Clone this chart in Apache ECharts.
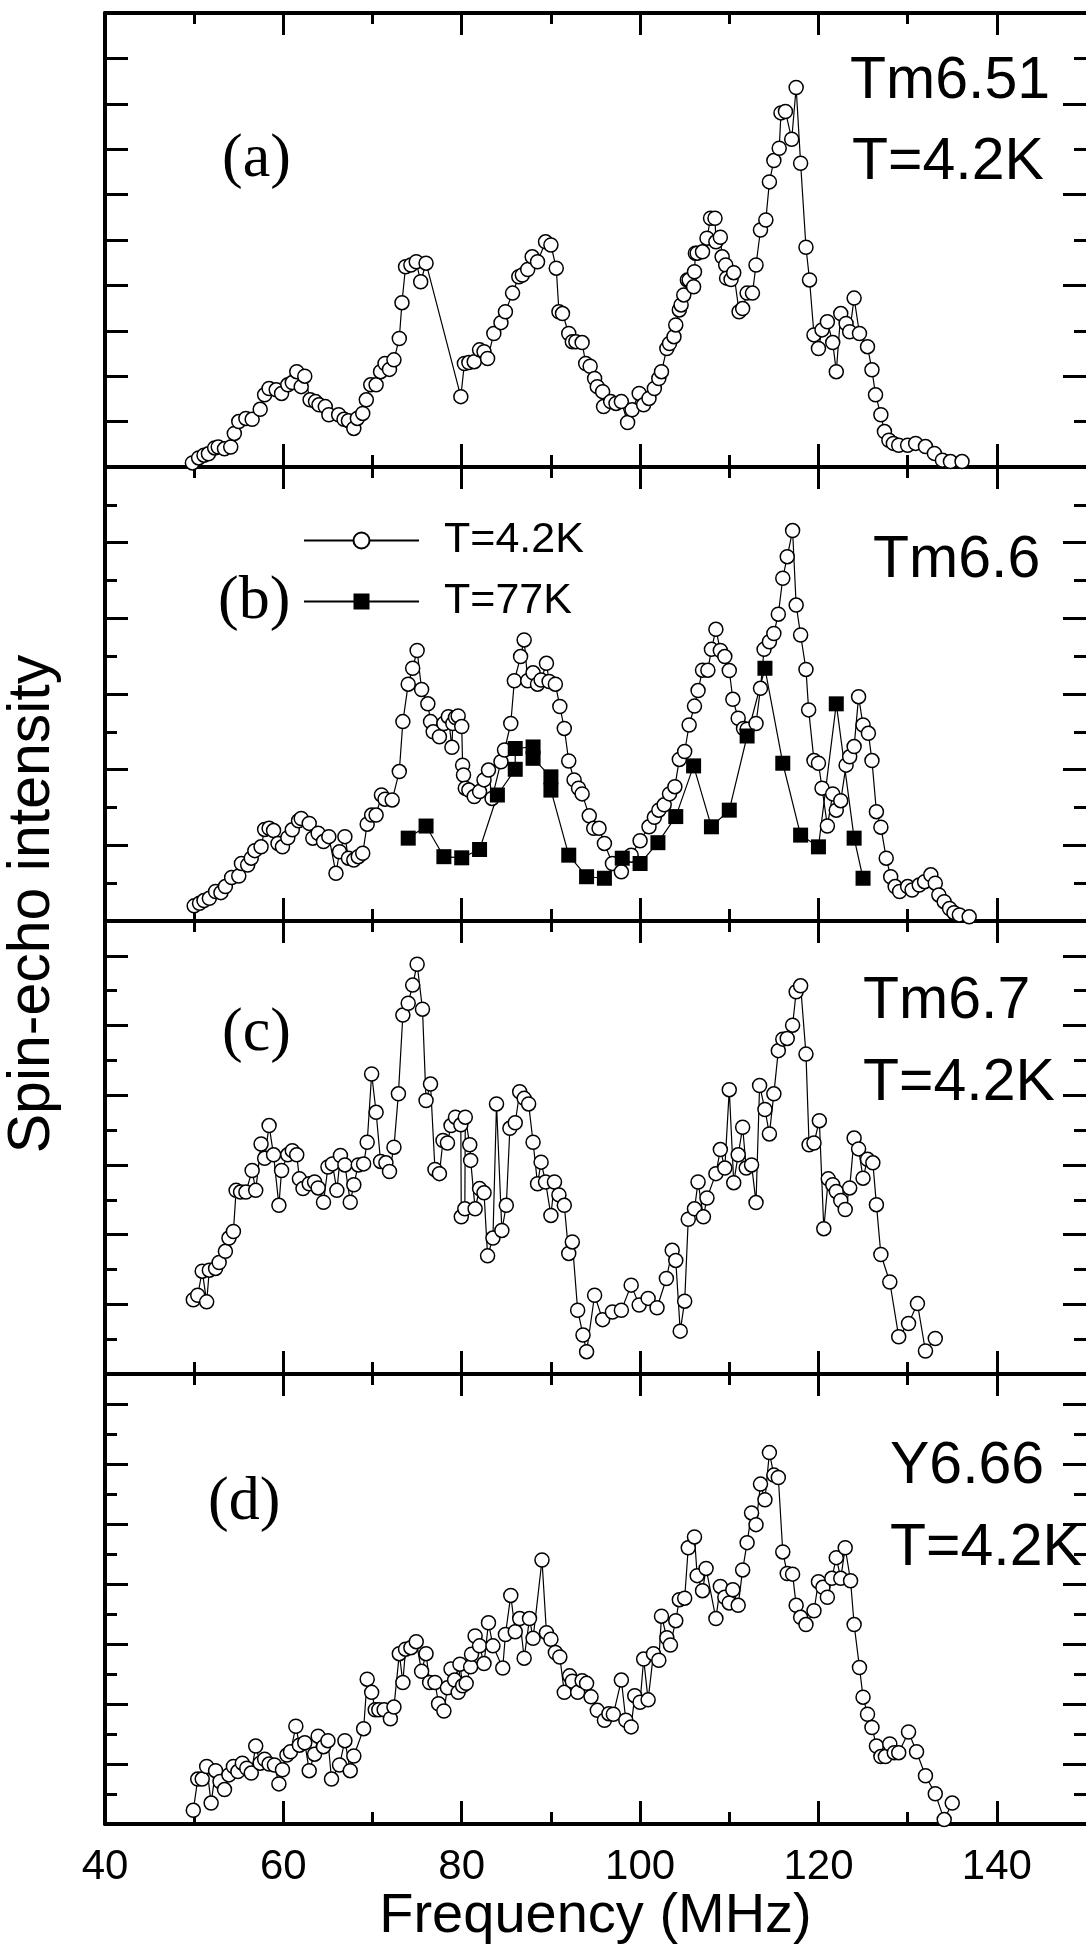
<!DOCTYPE html>
<html>
<head>
<meta charset="utf-8">
<title>Spin-echo spectra</title>
<script src="https://cdn.jsdelivr.net/npm/echarts@6/dist/echarts.min.js"></script>
<style>
  html, body { margin: 0; padding: 0; background: #fff; }
  #chart { width: 1086px; height: 1946px; }
</style>
</head>
<body>
<div id="chart"></div>
<script>
// (a) Tm6.51, T=4.2K
const freqA = [
  49.8, 50.5, 51.1, 51.6, 52.3, 52.7, 53.4, 54.1, 54.5, 55.0,
  55.8, 56.5, 57.4, 57.9, 58.4, 59.2, 59.8, 60.5, 61.0, 61.5,
  62.0, 62.4, 63.0, 63.6, 64.0, 64.7, 65.1, 66.2, 66.8, 67.3,
  67.9, 68.3, 68.9, 69.3, 69.8, 70.4, 70.9, 71.4, 71.9, 72.4,
  73.0, 73.3, 73.7, 74.3, 74.9, 75.4, 76.0, 79.9, 80.3, 80.8,
  81.4, 82.0, 82.5, 82.9, 83.6, 84.4, 84.9, 85.7, 86.4, 86.8,
  87.4, 87.9, 88.5, 89.4, 90.0, 90.6, 90.9, 91.3, 92.0, 92.4,
  92.8, 93.5, 93.9, 94.4, 94.9, 95.2, 95.8, 95.9, 96.7, 97.3,
  97.9, 98.6, 99.1, 99.9, 100.4, 101.0, 101.6, 102.1, 102.4, 103.0,
  103.3, 103.8, 104.0, 104.4, 104.6, 104.9, 105.3, 105.5, 106.0, 106.1,
  106.2, 106.4, 107.0, 107.5, 107.9, 108.4, 108.5, 109.0, 109.2, 109.6,
  109.7, 110.2, 110.5, 111.1, 111.5, 112.0, 112.6, 113.0, 113.5, 114.1,
  114.5, 115.0, 115.6, 115.8, 116.3, 117.0, 117.5, 118.0, 118.6, 119.0,
  119.5, 120.0, 120.4, 121.0, 121.6, 122.0, 122.5, 123.1, 123.5, 124.0,
  124.6, 125.5, 126.0, 126.4, 127.0, 127.4, 127.9, 128.4, 129.0, 130.0,
  130.9, 132.0, 133.0, 133.9, 134.8, 136.1
];
const ampA = [
  0.09, 0.2, 0.26, 0.29, 0.42, 0.44, 0.4, 0.44, 0.74, 1.0,
  1.07, 1.05, 1.27, 1.59, 1.73, 1.70, 1.62, 1.81, 1.86, 2.10,
  1.77, 2.0, 1.48, 1.44, 1.37, 1.33, 1.15, 1.15, 1.05, 1.02,
  0.85, 1.07, 1.18, 1.48, 1.81, 1.81, 2.1, 2.28, 2.15, 2.36,
  2.83, 3.62, 4.41, 4.45, 4.52, 4.08, 4.49, 1.55, 2.28, 2.30,
  2.32, 2.58, 2.54, 2.39, 2.94, 3.18, 3.42, 3.83, 4.19, 4.23,
  4.35, 4.63, 4.52, 4.96, 4.89, 4.38, 3.42, 3.38, 2.94, 2.76,
  2.76, 2.74, 2.28, 2.22, 1.95, 1.77, 1.66, 1.33, 1.44, 1.40,
  1.44, 0.98, 1.26, 1.62, 1.37, 1.51, 1.73, 1.95, 2.10, 2.61,
  2.72, 2.87, 3.13, 3.46, 3.57, 3.79, 4.12, 4.12, 3.97, 4.30,
  4.71, 4.71, 4.74, 5.04, 5.48, 5.48, 4.96, 5.06, 4.63, 4.45,
  4.16, 4.13, 4.28, 3.42, 3.49, 3.83, 3.83, 4.45, 5.22, 5.44,
  6.28, 6.75, 7.02, 7.80, 7.83, 7.22, 8.36, 6.69, 4.84, 4.12,
  2.91, 2.61, 3.02, 3.20, 2.74, 2.10, 3.38, 3.16, 2.98, 3.72,
  2.94, 2.65, 2.14, 1.59, 1.15, 0.78, 0.59, 0.52, 0.48, 0.48,
  0.52, 0.45, 0.30, 0.15, 0.12, 0.12
];

// (b) Tm6.6, T=4.2K
const freqB = [
  50.0, 50.6, 51.1, 51.7, 52.4, 53.0, 53.5, 54.2, 55.0, 55.3,
  56.0, 56.4, 56.8, 57.5, 57.9, 58.4, 58.9, 59.4, 59.9, 60.5,
  61.0, 61.7, 62.0, 62.9, 63.3, 63.9, 64.5, 65.1, 65.9, 66.3,
  66.9, 67.3, 67.9, 68.4, 68.9, 69.4, 69.9, 70.4, 71.0, 71.4,
  72.2, 73.0, 73.4, 74.0, 74.5, 75.0, 75.5, 76.2, 76.5, 76.8,
  77.5, 78.0, 78.5, 78.9, 79.0, 79.3, 79.6, 80.0, 80.1, 80.2,
  80.4, 80.8, 81.4, 82.0, 82.5, 83.0, 83.4, 84.4, 84.8, 85.5,
  85.9, 86.6, 87.0, 87.4, 88.0, 88.5, 88.9, 89.5, 89.8, 90.5,
  91.0, 91.5, 92.0, 92.6, 93.1, 93.5, 94.3, 94.8, 95.4, 96.0,
  96.9, 97.9, 99.0, 100.0, 101.0, 101.6, 102.1, 102.7, 103.3, 103.9,
  104.4, 105.0, 105.5, 106.1, 106.5, 107.0, 107.6, 108.0, 108.5, 109.0,
  109.5, 110.0, 110.4, 111.0, 111.6, 112.0, 113.0, 113.5, 113.9, 114.5,
  115.0, 115.5, 116.0, 116.5, 117.1, 117.5, 118.0, 118.6, 118.9, 119.5,
  120.0, 120.4, 121.0, 121.6, 122.0, 122.5, 123.1, 123.5, 124.0, 124.5,
  125.0, 125.6, 126.0, 126.5, 127.0, 127.6, 128.1, 128.6, 129.1, 130.0,
  130.5, 131.3, 131.9, 132.6, 133.1, 133.5, 134.1, 134.7, 135.2, 135.8,
  136.9
];
const ampB = [
  0.40, 0.47, 0.54, 0.60, 0.78, 0.75, 0.91, 1.15, 1.19, 1.52,
  1.48, 1.66, 1.86, 1.96, 2.42, 2.45, 2.39, 2.05, 1.96, 2.20,
  2.41, 2.65, 2.71, 2.58, 2.19, 2.32, 2.10, 2.23, 1.26, 1.83,
  2.23, 1.66, 1.61, 1.70, 1.79, 2.56, 2.80, 2.80, 3.33, 3.22,
  3.20, 3.95, 5.27, 6.26, 6.68, 7.15, 6.12, 5.74, 5.27, 5.00,
  4.87, 5.22, 5.40, 4.59, 5.22, 5.38, 5.42, 5.14, 4.12, 3.86,
  3.51, 3.46, 3.29, 3.42, 3.73, 3.99, 3.24, 4.21, 4.52, 5.22,
  6.35, 6.99, 7.43, 6.35, 6.56, 6.26, 6.37, 6.81, 6.33, 6.26,
  5.67, 5.09, 4.23, 3.73, 3.51, 3.36, 2.78, 2.45, 2.45, 2.05,
  1.52, 1.30, 1.74, 2.12, 2.49, 2.74, 2.93, 3.07, 3.36, 3.55,
  4.27, 4.48, 5.18, 5.68, 6.09, 6.63, 6.63, 7.18, 7.71, 7.15,
  6.99, 6.62, 5.86, 5.36, 5.09, 5.07, 5.22, 6.15, 7.18, 7.38,
  7.60, 8.11, 9.06, 9.63, 10.32, 8.35, 7.56, 6.65, 5.58, 4.24,
  4.17, 3.51, 2.51, 3.36, 2.93, 3.18, 4.12, 4.34, 4.61, 5.93,
  5.18, 4.96, 4.24, 2.89, 2.48, 1.66, 1.17, 0.91, 0.78, 0.91,
  0.82, 0.95, 1.04, 1.22, 1.0, 0.69, 0.51, 0.33, 0.22, 0.16,
  0.11
];

// (b) Tm6.6, T=77K
const freqB77 = [
  74, 76, 78, 80, 82, 84, 86, 86, 88, 88,
  90, 90, 92, 94, 96, 98, 100, 102, 104, 106,
  108, 110, 112, 114, 116, 118, 120, 122, 124, 125
];
const ampB77 = [
  2.19, 2.51, 1.70, 1.67, 1.89, 3.33, 4.01, 4.56, 4.60, 4.30,
  3.81, 3.46, 1.74, 1.17, 1.13, 1.66, 1.52, 2.07, 2.76, 4.10,
  2.49, 2.93, 4.89, 6.68, 4.17, 2.27, 1.96, 5.74, 2.19, 1.13
];

// (c) Tm6.7, T=4.2K
const freqC = [
  49.9, 50.4, 50.9, 51.4, 51.7, 52.4, 52.8, 53.5, 53.9, 54.4,
  54.7, 55.2, 55.8, 56.5, 56.9, 57.5, 57.9, 58.4, 58.9, 59.5,
  59.8, 60.5, 61.0, 61.5, 61.8, 62.2, 62.9, 63.5, 63.9, 64.5,
  65.0, 65.5, 66.0, 66.4, 66.9, 67.5, 67.9, 68.4, 69.0, 69.4,
  69.9, 70.4, 70.9, 71.5, 71.9, 72.4, 72.9, 73.4, 74.0, 74.5,
  75.0, 75.6, 76.0, 76.5, 77.0, 77.5, 77.9, 78.4, 78.8, 79.3,
  79.9, 79.95, 80.35, 80.4, 80.9, 81.0, 81.5, 82.0, 82.5, 82.9,
  83.5, 83.9, 84.5, 85.0, 85.4, 86.0, 86.5, 87.0, 87.5, 88.0,
  88.5, 88.9, 89.4, 90.0, 90.4, 90.9, 91.5, 92.0, 92.4, 93.0,
  93.6, 94.0, 94.9, 95.8, 96.9, 97.9, 99.0, 99.9, 100.9, 101.9,
  102.95, 103.6, 104.0, 104.5, 105.0, 105.4, 106.1, 106.5, 107.1, 107.5,
  108.5, 109.0, 109.5, 110.0, 110.5, 111.0, 111.5, 111.9, 112.5, 113.0,
  113.4, 114.0, 114.5, 115.0, 115.5, 116.0, 116.5, 117.1, 117.5, 118.0,
  118.6, 118.95, 119.5, 120.1, 120.6, 121.1, 121.6, 122.0, 122.5, 123.0,
  123.5, 124.0, 124.5, 125.0, 125.5, 126.1, 126.5, 127.0, 128.0, 129.0,
  130.1, 131.1, 132.0, 133.1
];
const ampC = [
  2.13, 2.26, 2.95, 2.07, 2.98, 3.03, 3.20, 3.52, 3.90, 4.09,
  5.27, 5.22, 5.22, 5.84, 5.27, 6.60, 6.19, 7.13, 6.29, 4.84,
  5.84, 6.29, 6.41, 6.29, 5.60, 5.32, 5.46, 5.51, 5.34, 4.93,
  5.94, 6.03, 5.27, 6.27, 6.00, 4.93, 5.43, 6.00, 6.03, 6.65,
  8.61, 7.51, 6.10, 6.06, 5.81, 6.51, 8.04, 10.30, 10.64, 11.16,
  11.76, 10.47, 7.85, 8.32, 5.87, 5.75, 6.70, 6.63, 7.13, 7.37,
  7.15, 4.51, 4.74, 7.37, 6.58, 6.13, 4.74, 5.32, 5.20, 3.39,
  3.90, 7.75, 4.12, 4.84, 7.05, 7.21, 8.10, 7.91, 7.75, 6.65,
  5.46, 6.08, 5.51, 4.55, 5.51, 5.14, 4.84, 3.46, 3.79, 1.83,
  1.12, 0.64, 2.26, 1.56, 1.78, 1.83, 2.55, 1.98, 2.17, 1.90,
  2.74, 3.55, 3.26, 1.23, 2.09, 4.44, 4.74, 5.51, 4.51, 5.05,
  5.75, 6.44, 5.91, 8.16, 5.49, 6.29, 7.08, 5.91, 6.00, 4.92,
  8.28, 7.59, 6.89, 8.04, 9.28, 9.61, 9.63, 10.01, 10.97, 11.14,
  9.18, 6.58, 6.63, 7.27, 4.17, 5.60, 5.43, 5.24, 4.98, 4.72,
  5.34, 6.77, 6.46, 5.62, 6.16, 6.06, 4.86, 3.43, 2.64, 1.07,
  1.45, 2.02, 0.66, 1.02
];

// (d) Y6.66, T=4.2K
const freqD = [
  49.9, 50.4, 50.9, 51.4, 51.9, 52.4, 52.9, 53.4, 53.9, 54.4,
  54.9, 55.4, 55.9, 56.4, 56.9, 57.4, 57.9, 58.4, 59.0, 59.5,
  59.9, 60.4, 60.8, 61.4, 61.8, 62.4, 62.9, 63.5, 63.9, 64.5,
  65.0, 65.4, 66.3, 66.9, 67.5, 67.9, 69.0, 69.4, 69.9, 70.3,
  70.7, 71.3, 72.0, 72.4, 73.0, 73.4, 73.7, 74.3, 74.9, 75.5,
  76.0, 76.4, 77.0, 77.4, 78.0, 78.4, 78.8, 79.2, 79.6, 79.8,
  80.1, 80.5, 81.0, 81.1, 81.5, 82.0, 82.5, 83.0, 83.5, 84.6,
  84.9, 85.5, 86.0, 86.5, 87.0, 87.6, 88.0, 89.0, 89.5, 90.0,
  90.5, 91.0, 91.5, 92.1, 92.4, 93.0, 93.5, 94.0, 94.5, 95.2,
  96.0, 96.5, 97.0, 97.9, 98.4, 99.0, 99.4, 100.0, 100.4, 100.9,
  101.5, 102.1, 102.4, 103.0, 103.4, 104.0, 104.4, 105.0, 105.4, 106.1,
  106.4, 107.0, 107.4, 108.5, 109.0, 109.5, 110.0, 110.4, 111.0, 111.5,
  112.0, 112.5, 113.0, 113.5, 114.0, 114.5, 115.0, 115.5, 116.0, 116.5,
  117.1, 117.5, 118.0, 118.6, 119.5, 120.0, 120.5, 121.0, 121.5, 122.0,
  122.5, 123.0, 123.6, 124.0, 124.6, 125.0, 125.5, 126.0, 126.5, 127.0,
  127.5, 128.0, 128.5, 129.0, 130.1, 131.0, 132.0, 133.1, 134.1, 135.0
];
const ampD = [
  0.46, 1.50, 1.50, 1.92, 0.70, 1.78, 1.42, 1.15, 1.64, 1.92,
  1.75, 2.03, 1.86, 1.70, 2.60, 2.03, 2.16, 2.00, 1.97, 1.34,
  1.81, 2.30, 2.41, 3.26, 2.63, 2.71, 1.78, 2.33, 2.93, 2.58,
  2.78, 1.50, 1.97, 2.78, 1.78, 2.27, 3.18, 4.83, 4.39, 3.81,
  3.81, 3.81, 3.51, 3.90, 5.68, 4.72, 5.83, 5.88, 6.08, 5.09,
  5.68, 4.72, 4.72, 4.01, 3.77, 4.54, 5.17, 4.80, 4.39, 5.33,
  4.61, 4.69, 5.24, 5.66, 6.27, 5.94, 5.35, 6.71, 5.94, 5.20,
  6.32, 7.62, 6.41, 6.85, 5.53, 6.85, 6.19, 8.80, 6.38, 6.16,
  5.72, 5.57, 4.39, 4.94, 4.76, 4.39, 4.78, 4.69, 4.24, 3.79,
  3.46, 3.68, 3.66, 4.80, 3.46, 3.24, 4.28, 4.06, 5.50, 4.14,
  5.68, 5.46, 6.93, 6.21, 5.97, 6.78, 7.48, 7.53, 9.21, 9.57,
  8.28, 7.78, 8.52, 6.85, 7.92, 7.56, 7.37, 7.81, 7.29, 8.47,
  9.38, 10.37, 9.98, 11.33, 10.81, 12.38, 11.63, 11.55, 9.07, 8.35,
  8.33, 7.29, 6.89, 6.65, 7.11, 8.08, 7.89, 7.56, 8.19, 8.88,
  8.19, 9.21, 8.11, 6.65, 5.22, 4.23, 3.66, 3.22, 2.60, 2.25,
  2.25, 2.67, 2.38, 2.38, 3.07, 2.41, 1.61, 1.01, 0.15, 0.70
];

// tick positions on the frequency axis
const freqMajor = [40, 60, 80, 100, 120, 140];
const freqMinor = [50, 70, 90, 110, 130];

// panel layout (px) and y range of each panel (in tick divisions)
const panelTop = [13, 467, 921, 1374];
const panelHeight = [454, 454, 453, 453];
const panelDivs = [10, 12, 13, 15];

const FONT = "'Liberation Sans', Arial, sans-serif";
const SERIF = "'Liberation Serif', 'Times New Roman', serif";

function steps(from, to, step) {
  let out = [];
  for (let v = from; v <= to; v += step) out.push(v);
  return out;
}
function pairs(xs, ys) {
  return xs.map((x, i) => [x, ys[i]]);
}

let grid = [], xAxis = [], yAxis = [];

function freqAxis(i, pos, values, len, withLine, labels) {
  let ax = {
    gridIndex: i, type: 'value', min: 40, max: 150, position: pos,
    axisLine: { show: withLine, onZero: false, lineStyle: { color: '#000', width: 4 } },
    axisTick: { show: true, inside: true, length: len, customValues: values,
      lineStyle: { color: '#000', width: 3 } },
    axisLabel: { show: false },
    splitLine: { show: false }
  };
  if (labels) {
    ax.axisLabel = { show: true, customValues: freqMajor, color: '#000',
      fontFamily: FONT, fontSize: 42, margin: 22 };
    ax.name = 'Frequency (MHz)';
    ax.nameLocation = 'middle';
    ax.nameGap = 62;
    ax.nameTextStyle = { color: '#000', fontFamily: FONT, fontSize: 56 };
  }
  return ax;
}

function intensityAxis(i, pos, values, len, withLine) {
  return {
    gridIndex: i, type: 'value', min: 0, max: panelDivs[i], position: pos,
    axisLine: { show: withLine, onZero: false, lineStyle: { color: '#000', width: 4 } },
    axisTick: { show: values.length > 0, inside: true, length: len,
      customValues: values.length ? values : [0],
      lineStyle: { color: '#000', width: 3 } },
    axisLabel: { show: false },
    splitLine: { show: false }
  };
}

for (let i = 0; i < 4; i++) {
  grid.push({ left: 105, right: 0, top: panelTop[i], height: panelHeight[i] });
  // bottom and top frequency axes: major + minor ticks
  xAxis.push(freqAxis(i, 'bottom', freqMajor, 23, true, i === 3));
  xAxis.push(freqAxis(i, 'bottom', freqMinor, 12, false, false));
  xAxis.push(freqAxis(i, 'top', freqMajor, 22, true, false));
  xAxis.push(freqAxis(i, 'top', freqMinor, 11, false, false));

  let n = panelDivs[i];
  let even = steps(0, n, 2), odd = steps(1, n, 2);
  // panel (a) has long ticks at every division on the left side
  yAxis.push(intensityAxis(i, 'left', i === 0 ? steps(0, n, 1) : even, 23, true));
  yAxis.push(intensityAxis(i, 'left', i === 0 ? [] : odd, 12, false));
  yAxis.push(intensityAxis(i, 'right', even, 23, false));
  yAxis.push(intensityAxis(i, 'right', odd, 12, false));
}

function openCircles(name, i, xs, ys) {
  return {
    name: name, type: 'line', xAxisIndex: 4 * i, yAxisIndex: 4 * i,
    data: pairs(xs, ys),
    symbol: 'circle', symbolSize: 14, showAllSymbol: true, clip: false,
    itemStyle: { color: '#fff', borderColor: '#000', borderWidth: 1.5 },
    lineStyle: { color: '#000', width: 1.2 },
    emphasis: { disabled: true }
  };
}

let series = [
  openCircles('Tm6.51', 0, freqA, ampA),
  openCircles('T=4.2K', 1, freqB, ampB),
  {
    name: 'T=77K', type: 'line', xAxisIndex: 4, yAxisIndex: 4,
    data: pairs(freqB77, ampB77),
    symbol: 'rect', symbolSize: 15, showAllSymbol: true, clip: false,
    itemStyle: { color: '#000' },
    lineStyle: { color: '#000', width: 1.2 },
    emphasis: { disabled: true }
  },
  openCircles('Tm6.7', 2, freqC, ampC),
  openCircles('Y6.66', 3, freqD, ampD)
];

function label(text, x, y, size, family) {
  return {
    type: 'text', x: x, y: y, silent: true,
    style: {
      text: text, fill: '#000', font: size + 'px ' + family,
      align: 'left', verticalAlign: 'middle',
      textAlign: 'left', textVerticalAlign: 'middle'
    }
  };
}

let graphic = [
  label('(a)', 222, 160, 62, SERIF),
  label('Tm6.51', 850, 82, 59, FONT),
  label('T=4.2K', 852, 163, 59, FONT),
  label('(b)', 218, 602, 62, SERIF),
  label('Tm6.6', 873, 561, 59, FONT),
  label('(c)', 222, 1034, 62, SERIF),
  label('Tm6.7', 863, 1002, 59, FONT),
  label('T=4.2K', 863, 1084, 59, FONT),
  label('(d)', 208, 1503, 62, SERIF),
  label('Y6.66', 890, 1467, 59, FONT),
  label('T=4.2K', 890, 1549, 59, FONT),
  {
    type: 'text', x: 33, y: 904, rotation: Math.PI / 2, silent: true,
    style: {
      text: 'Spin-echo intensity', fill: '#000', font: '59px ' + FONT,
      align: 'center', verticalAlign: 'middle',
      textAlign: 'center', textVerticalAlign: 'middle'
    }
  }
];

let myChart = echarts.init(document.getElementById('chart'));
myChart.setOption({
  animation: false,
  backgroundColor: '#fff',
  grid: grid,
  xAxis: xAxis,
  yAxis: yAxis,
  legend: {
    data: ['T=4.2K', 'T=77K'],
    orient: 'vertical',
    left: 298,
    top: 514,
    itemWidth: 115,
    itemHeight: 20,
    itemGap: 18,
    selectedMode: false,
    textStyle: { color: '#000', fontFamily: FONT, fontSize: 43, lineHeight: 43,
      padding: [0, 0, 0, 20] }
  },
  graphic: graphic,
  series: series
});
</script>
</body>
</html>
